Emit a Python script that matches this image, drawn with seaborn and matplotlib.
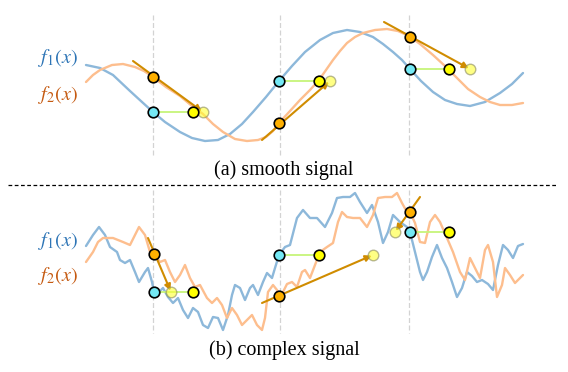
import matplotlib
matplotlib.use("Agg")
import matplotlib.pyplot as plt
import seaborn as sns

# ---- 数据（从原图读取，x 为横向位置，y 为纵向位置，向下增大） ----
# (a) smooth signal
sm_f1_x = [86, 100, 113, 130, 142, 153, 165, 180, 192, 205, 218, 230, 242, 253, 266, 279,
           292, 305, 320, 333, 347, 360, 373, 383, 393, 402, 410, 421, 433, 445, 457, 470,
           485, 500, 512, 523]
sm_f1_y = [65, 68, 75, 91, 102, 112, 122, 132, 138, 141, 140, 134, 124, 112, 97, 81,
           66, 52, 40, 33, 30, 32, 37, 44, 52, 60, 69, 81, 92, 100, 104, 106,
           102, 93, 84, 73]
sm_f2_x = [86, 93, 100, 112, 123, 135, 144, 153, 166, 180, 192, 203, 213, 223, 235, 247,
           258, 266, 273, 279, 290, 300, 310, 319, 326, 333, 340, 347, 355, 363, 375, 387,
           398, 409, 420, 433, 445, 457, 468, 480, 490, 500, 512, 523]
sm_f2_y = [82, 75, 70, 65, 64, 67, 71, 77, 87, 96, 106, 114, 124, 132, 139, 141,
           140, 137, 131, 123, 111, 100, 90, 80, 70, 60, 51, 43, 37, 33, 30, 29,
           31, 36, 44, 55, 66, 78, 89, 97, 102, 105, 105, 103]

# (b) complex signal
cx_f1_x = [86, 93, 99, 105, 110, 117, 120, 125, 130, 135, 139, 145, 148, 152, 154, 158,
           163, 168, 173, 178, 183, 188, 193, 198, 203, 208, 213, 218, 223, 228, 232, 235,
           240, 245, 250, 253, 258, 263, 267, 272, 275, 279, 285, 290, 297, 303, 310, 317,
           325, 332, 337, 343, 350, 355, 360, 367, 372, 378, 383, 388, 393, 400, 407, 410,
           415, 420, 423, 427, 432, 437, 442, 447, 452, 457, 462, 467, 472, 477, 482, 488,
           493, 498, 503, 508, 513, 518, 523]
cx_f1_y = [246, 235, 227, 235, 247, 252, 260, 263, 260, 272, 282, 272, 268, 282, 292, 293,
           288, 297, 303, 298, 310, 318, 308, 312, 325, 328, 317, 318, 330, 315, 295, 285,
           288, 300, 288, 285, 295, 282, 273, 278, 268, 255, 247, 245, 218, 210, 218, 218,
           227, 213, 198, 197, 197, 193, 202, 213, 205, 222, 243, 232, 215, 222, 227, 232,
           252, 272, 280, 272, 257, 245, 258, 268, 282, 297, 288, 272, 276, 282, 280, 284,
           290, 265, 245, 250, 258, 246, 244]
cx_f2_x = [86, 93, 98, 103, 113, 123, 130, 135, 139, 145, 150, 154, 160, 165, 170, 175,
           180, 185, 190, 195, 200, 207, 212, 217, 222, 227, 232, 237, 242, 247, 252, 257,
           262, 265, 268, 273, 277, 279, 283, 287, 292, 297, 302, 305, 310, 315, 320, 327,
           333, 338, 342, 347, 353, 360, 367, 373, 378, 385, 392, 397, 402, 407, 410, 415,
           420, 425, 430, 435, 440, 447, 453, 460, 465, 470, 475, 480, 485, 488, 493, 497,
           502, 505, 510, 515, 523]
cx_f2_y = [262, 252, 242, 238, 238, 242, 245, 235, 227, 235, 252, 254, 262, 260, 272, 282,
           275, 265, 278, 287, 285, 298, 303, 298, 305, 318, 308, 315, 325, 320, 315, 325,
           330, 318, 292, 285, 290, 296, 292, 284, 282, 287, 272, 270, 278, 265, 252, 247,
           243, 222, 212, 217, 218, 218, 227, 215, 198, 197, 197, 193, 203, 212, 212, 223,
           242, 243, 222, 215, 222, 238, 252, 272, 280, 258, 268, 278, 250, 245, 262, 297,
           285, 268, 275, 283, 275]

# 采样点、真实平移点、线性估计点、切线起点
sm_px = [153, 279, 410]
sm_f1_at = [112, 81, 69]
sm_f2_at = [77, 123, 37]
sm_true_x = [193, 319, 449]
sm_est_x = [203, 330, 470]
sm_tan_x = [133, 262, 384]
sm_tan_y = [61, 140, 22]

cx_px = [154, 279, 410]
cx_f1_at = [292, 255, 232]
cx_f2_at = [254, 296, 212]
cx_true_x = [193, 319, 449]
cx_est_x = [171, 373, 395]
cx_tan_x = [148, 262, 420]
cx_tan_y = [238, 303, 197]

guide_x = [153, 279.5, 409]

# ---- 样式 ----
sns.set_theme(style="white")
plt.rcParams["font.family"] = ["Liberation Serif", "DejaVu Serif"]
plt.rcParams["mathtext.fontset"] = "stix"

blue_line = "#8DB8DA"
orange_line = "#FDBE8E"
arrow_color = "#D08C00"

fig = plt.figure(figsize=(5.68, 3.72), dpi=100)
ax = fig.add_axes([0, 0, 1, 1])
ax.set_xlim(0, 568)
ax.set_ylim(372, 0)
ax.axis("off")

# 竖直参考虚线
ax.vlines(guide_x, 15, 157, colors="#D3D3D3", linestyles=(0, (4, 2)), linewidth=0.9, zorder=1)
ax.vlines(guide_x, 190, 333, colors="#D3D3D3", linestyles=(0, (4, 2)), linewidth=0.9, zorder=1)

# 信号曲线
for xs, ys, c in [(sm_f1_x, sm_f1_y, blue_line), (sm_f2_x, sm_f2_y, orange_line),
                  (cx_f1_x, cx_f1_y, blue_line), (cx_f2_x, cx_f2_y, orange_line)]:
    sns.lineplot(x=xs, y=ys, color=c, linewidth=1.7, estimator=None, sort=False, ax=ax,
                 zorder=2, solid_joinstyle="round", solid_capstyle="round")


def draw_panel(px, f1_at, f2_at, true_x, est_x, tan_x, tan_y):
    # 青色点到黄色点的连线
    for x0, x1, y in zip(px, true_x, f1_at):
        ax.plot([x0, x1], [y, y], color="#C6F57A", linewidth=1.3, zorder=3)
    # 切线箭头
    for x0, y0, x1, y1 in zip(tan_x, tan_y, est_x, f1_at):
        ax.annotate("", xy=(x1, y1), xytext=(x0, y0),
                    arrowprops=dict(arrowstyle="-|>", color=arrow_color, lw=1.5,
                                    mutation_scale=9, shrinkA=0, shrinkB=1), zorder=4)
    # 线性估计点（半透明）
    sns.scatterplot(x=est_x, y=f1_at, s=58, color="#FFFF33", alpha=0.6,
                    edgecolor="#8A8A60", linewidth=1.0, ax=ax, zorder=5)
    # 采样点
    sns.scatterplot(x=px, y=f1_at, s=58, color="#74E8F4", edgecolor="black",
                    linewidth=1.2, ax=ax, zorder=6)
    sns.scatterplot(x=px, y=f2_at, s=58, color="#FFB000", edgecolor="black",
                    linewidth=1.2, ax=ax, zorder=6)
    sns.scatterplot(x=true_x, y=f1_at, s=58, color="#FFFF00", edgecolor="black",
                    linewidth=1.2, ax=ax, zorder=6)


draw_panel(sm_px, sm_f1_at, sm_f2_at, sm_true_x, sm_est_x, sm_tan_x, sm_tan_y)
draw_panel(cx_px, cx_f1_at, cx_f2_at, cx_true_x, cx_est_x, cx_tan_x, cx_tan_y)

# 曲线标签
for y1, y2 in [(58, 95), (241, 276)]:
    ax.text(58, y1, r"$f_1(x)$", color="#2E75B6", fontsize=14.5, ha="center", va="center")
    ax.text(58, y2, r"$f_2(x)$", color="#C55A11", fontsize=14.5, ha="center", va="center")

# 子图标题
ax.text(284, 170, "(a) smooth signal", fontsize=14.5, ha="center", va="center", color="black")
ax.text(284, 350, "(b) complex signal", fontsize=14.5, ha="center", va="center", color="black")

# 分隔虚线
ax.plot([8, 558], [185, 185], color="black", linewidth=0.9, linestyle=(0, (3, 2)))

plt.savefig("out.png", dpi=100)
